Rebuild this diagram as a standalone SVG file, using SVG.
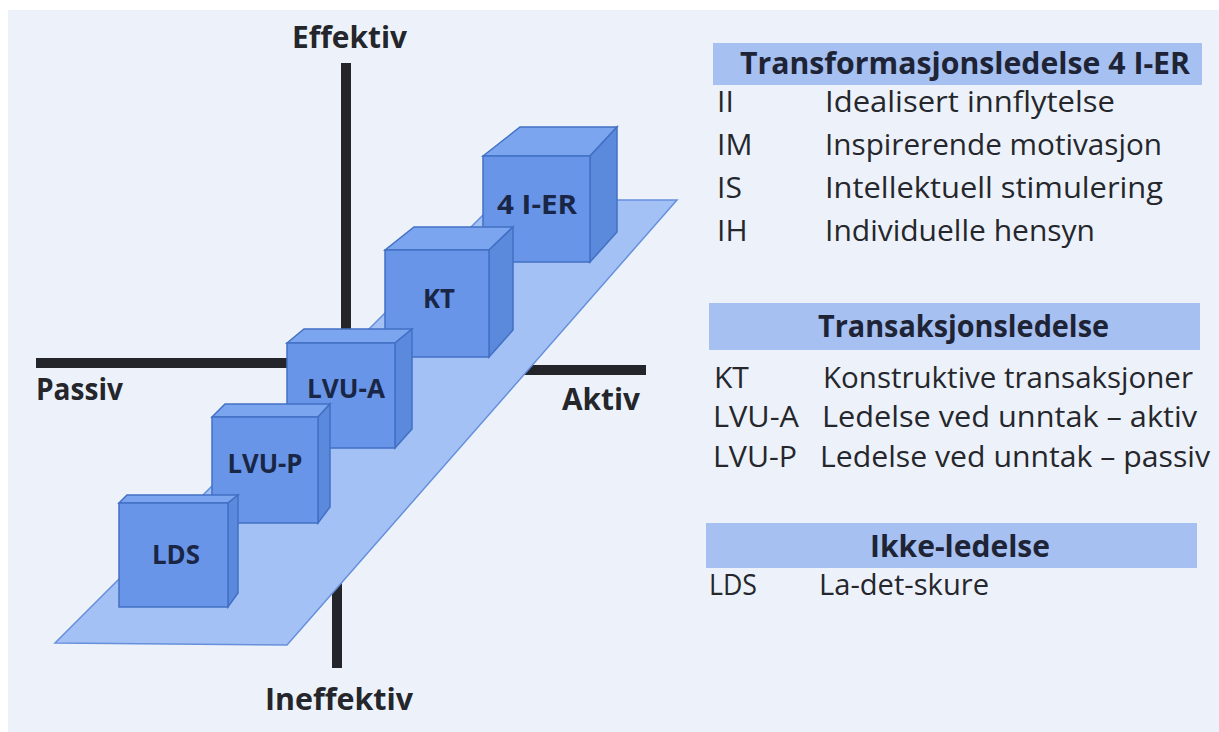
<svg xmlns="http://www.w3.org/2000/svg" width="1219" height="732" viewBox="0 0 1219 732">
  <style>
    .axis { stroke: #23252b; stroke-width: 10; fill: none; }
    .plane { fill: #a4c1f5; stroke: #6690dc; stroke-width: 1.5; }
    .front { fill: #6995e8; stroke: #4170c4; stroke-width: 1.5; }
    .top { fill: #7ca5ef; stroke: #4170c4; stroke-width: 1.5; }
    .side { fill: #5b89dc; stroke: #4170c4; stroke-width: 1.5; }
    .axlabel { font-family: "Open Sans", "Noto Sans", sans-serif; font-weight: 700; font-size: 30px; fill: #24262c; }
    .cubelabel { font-family: "Open Sans", "Noto Sans", sans-serif; font-weight: 700; font-size: 27px; fill: #1a2646; text-anchor: middle; }
    .band { fill: #a5c0f1; }
    .head { font-family: "Open Sans", "Noto Sans", sans-serif; font-weight: 700; font-size: 31px; fill: #1e2435; }
    .item { font-family: "Open Sans", "Noto Sans", sans-serif; font-size: 30px; fill: #25272c; }
  </style>
  <rect x="0" y="0" width="1219" height="732" fill="#ffffff"/>
  <rect x="8" y="10" width="1211" height="722" fill="#edf2fa"/>

  <g id="connectors">
    <line class="axis" x1="346" y1="63" x2="346" y2="420"/>
    <line class="axis" x1="337" y1="560" x2="337" y2="668"/>
    <line class="axis" x1="36" y1="363" x2="340" y2="363"/>
    <line class="axis" x1="500" y1="370" x2="646" y2="370"/>
  </g>

  <g id="axis-labels">
    <text class="axlabel" x="292" y="48" textLength="115" lengthAdjust="spacingAndGlyphs">Effektiv</text>
    <text class="axlabel" x="36" y="400" textLength="87" lengthAdjust="spacingAndGlyphs">Passiv</text>
    <text class="axlabel" x="562" y="410" textLength="78" lengthAdjust="spacingAndGlyphs">Aktiv</text>
    <text class="axlabel" x="265" y="710" textLength="148" lengthAdjust="spacingAndGlyphs">Ineffektiv</text>
  </g>

  <g id="plane">
    <polygon class="plane" points="55,643 287,645 677,200 498,200"/>
  </g>

  <g id="cube-4ier">
    <polygon class="top" points="483,156 520,127 617,127 590,156"/>
    <polygon class="side" points="590,156 617,127 617,232 590,262"/>
    <rect class="front" x="483" y="156" width="107" height="106"/>
    <text class="cubelabel" x="537" y="214" textLength="80" lengthAdjust="spacingAndGlyphs">4 I-ER</text>
  </g>

  <g id="cube-kt">
    <polygon class="top" points="385,250 414,227 513,227 489,250"/>
    <polygon class="side" points="489,250 513,227 513,330 489,357"/>
    <rect class="front" x="385" y="250" width="104" height="107"/>
    <text class="cubelabel" x="439" y="308" textLength="32" lengthAdjust="spacingAndGlyphs">KT</text>
  </g>

  <g id="cube-lvua">
    <polygon class="top" points="287,343 304,329 412,329 395,343"/>
    <polygon class="side" points="395,343 412,329 412,429 395,448"/>
    <rect class="front" x="287" y="343" width="108" height="105"/>
    <text class="cubelabel" x="346" y="398" textLength="78" lengthAdjust="spacingAndGlyphs">LVU-A</text>
  </g>

  <g id="cube-lvup">
    <polygon class="top" points="212,417 225,404 330,404 318,417"/>
    <polygon class="side" points="318,417 330,404 330,507 318,523"/>
    <rect class="front" x="212" y="417" width="106" height="106"/>
    <text class="cubelabel" x="265" y="473" textLength="75" lengthAdjust="spacingAndGlyphs">LVU-P</text>
  </g>

  <g id="cube-lds">
    <polygon class="top" points="119,503 127,495 238,495 228,503"/>
    <polygon class="side" points="228,503 238,495 238,593 228,607"/>
    <rect class="front" x="119" y="503" width="109" height="104"/>
    <text class="cubelabel" x="176" y="564" textLength="48" lengthAdjust="spacingAndGlyphs">LDS</text>
  </g>

  <g id="legend-transformasjon">
    <rect class="band" x="713" y="43" width="489" height="42"/>
    <text class="head" x="740" y="74" textLength="450" lengthAdjust="spacingAndGlyphs">Transformasjonsledelse 4 I-ER</text>
    <text class="item" x="717" y="112">II</text>
    <text class="item" x="825" y="112" textLength="290" lengthAdjust="spacingAndGlyphs">Idealisert innflytelse</text>
    <text class="item" x="717" y="155">IM</text>
    <text class="item" x="825" y="155" textLength="337" lengthAdjust="spacingAndGlyphs">Inspirerende motivasjon</text>
    <text class="item" x="717" y="198">IS</text>
    <text class="item" x="825" y="198" textLength="338" lengthAdjust="spacingAndGlyphs">Intellektuell stimulering</text>
    <text class="item" x="717" y="241">IH</text>
    <text class="item" x="825" y="241" textLength="270" lengthAdjust="spacingAndGlyphs">Individuelle hensyn</text>
  </g>

  <g id="legend-transaksjon">
    <rect class="band" x="709" y="303" width="491" height="47"/>
    <text class="head" x="818" y="337" textLength="291" lengthAdjust="spacingAndGlyphs">Transaksjonsledelse</text>
    <text class="item" x="714" y="388">KT</text>
    <text class="item" x="823" y="388" textLength="370" lengthAdjust="spacingAndGlyphs">Konstruktive transaksjoner</text>
    <text class="item" x="713" y="427" textLength="86" lengthAdjust="spacingAndGlyphs">LVU-A</text>
    <text class="item" x="822" y="427" textLength="375" lengthAdjust="spacingAndGlyphs">Ledelse ved unntak – aktiv</text>
    <text class="item" x="713" y="467" textLength="84" lengthAdjust="spacingAndGlyphs">LVU-P</text>
    <text class="item" x="820" y="467" textLength="390" lengthAdjust="spacingAndGlyphs">Ledelse ved unntak – passiv</text>
  </g>

  <g id="legend-ikke">
    <rect class="band" x="706" y="523" width="491" height="45"/>
    <text class="head" x="870" y="557" textLength="180" lengthAdjust="spacingAndGlyphs">Ikke-ledelse</text>
    <text class="item" x="709" y="595" textLength="48" lengthAdjust="spacingAndGlyphs">LDS</text>
    <text class="item" x="819" y="595" textLength="170" lengthAdjust="spacingAndGlyphs">La-det-skure</text>
  </g>
</svg>
